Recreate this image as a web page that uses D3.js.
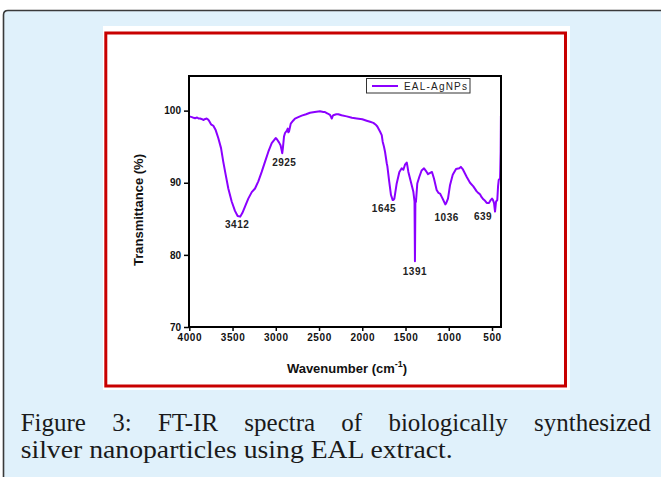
<!DOCTYPE html>
<html>
<head>
<meta charset="utf-8">
<script src="https://cdn.jsdelivr.net/npm/d3@7"></script>
<style>
  body { margin: 0; background: #fff; }
  svg { display: block; }
</style>
</head>
<body>
<div id="chart"></div>
<script>
// FT-IR spectrum, values
const wavenumber = [
  4000, 3970, 3950, 3934, 3910, 3890, 3876, 3850, 3838, 3815, 3799, 3785, 3772, 3749, 3735, 3722,
  3695, 3665, 3633, 3607, 3579, 3549, 3510, 3472, 3441, 3412, 3387, 3356, 3318, 3278, 3240, 3202,
  3163, 3125, 3086, 3047, 3020, 3001, 2985, 2963, 2945, 2932, 2925, 2918, 2905, 2893, 2874, 2862,
  2855, 2847, 2827, 2800, 2778, 2740, 2700, 2650, 2604, 2550, 2489, 2450, 2431, 2400, 2373, 2360,
  2353, 2340, 2327, 2300, 2277, 2240, 2180, 2120, 2064, 2000, 1949, 1910, 1872, 1840, 1826, 1795,
  1775, 1764, 1749, 1737, 1717, 1710, 1691, 1668, 1648, 1640, 1629, 1602, 1571, 1544, 1525, 1506,
  1486, 1478, 1467, 1440, 1410, 1396, 1391, 1386, 1379, 1364, 1341, 1314, 1286, 1256, 1240, 1225,
  1194, 1171, 1140, 1120, 1101, 1080, 1063, 1040, 1032, 1009, 985, 954, 916, 878, 860, 839,
  792, 754, 716, 677, 660, 639, 620, 600, 580, 561, 535, 515, 500, 492, 477, 465,
  453, 439, 430, 422, 407, 404, 400, 397
];
const transmittance = [
  99.2, 99.1, 99.0, 98.95, 99.05, 98.9, 98.9, 98.8, 98.7, 98.85, 98.9, 98.8, 98.6, 98.1, 98.0, 97.9,
  97.3, 96.2, 94.8, 92.9, 91.1, 89.2, 87.4, 86.1, 85.4, 85.3, 85.8, 86.7, 87.8, 88.7, 89.2, 90.2,
  91.5, 92.9, 94.3, 95.5, 95.9, 96.2, 96.0, 95.6, 95.2, 94.5, 94.1, 94.8, 96.4, 96.9, 97.2, 97.5,
  97.0, 97.1, 98.2, 98.6, 98.9, 99.1, 99.3, 99.5, 99.7, 99.8, 99.9, 99.8, 99.8, 99.6, 99.4, 99.1,
  98.9, 99.3, 99.4, 99.5, 99.5, 99.35, 99.2, 99.0, 98.9, 98.8, 98.6, 98.45, 98.3, 98.0, 97.8, 97.1,
  96.6, 95.7, 95.0, 94.3, 92.7, 92.3, 90.4, 88.3, 87.6, 87.6, 87.8, 89.9, 91.5, 92.0, 91.8, 92.5,
  92.8, 92.3, 91.5, 90.2, 88.8, 87.4, 79.1, 87.2, 87.4, 89.9, 90.8, 91.7, 92.0, 91.5, 91.2, 91.3,
  91.5, 90.6, 89.0, 88.6, 88.5, 88.0, 87.6, 87.0, 87.1, 87.8, 89.7, 91.1, 91.9, 92.0, 92.2, 91.9,
  90.8, 90.0, 89.5, 88.8, 88.6, 88.4, 88.0, 87.7, 87.5, 87.2, 87.2, 87.6, 87.8, 87.7, 87.2, 86.0,
  87.4, 87.6, 89.5, 90.4, 90.6, 92.0, 94.3, 99.3
];
const xTicks = [4000, 3500, 3000, 2500, 2000, 1500, 1000, 500];
const yTicks = [70, 80, 90, 100];
const peakWavenumber = [3412, 2925, 1645, 1391, 1036, 639];
const peakTransmittance = [85.3, 94.1, 87.6, 79.1, 87.0, 88.4];
const seriesName = "EAL-AgNPs";
const xTitle = "Wavenumber (cm";
const xTitleSup = "-1";
const yTitle = "Transmittance (%)";
const captionLines = [
  "Figure 3: FT-IR spectra of biologically synthesized",
  "silver nanoparticles using EAL extract."
];

// label offsets from the peak point (px)
const peakOffsets = [[-3, 11], [2, 13], [-9, 12], [0, 14], [1, 17], [3, 26]];

const W = 661, H = 477;
const svg = d3.select("#chart").append("svg")
  .attr("width", W).attr("height", H)
  .attr("xmlns", "http://www.w3.org/2000/svg");

// page panel
svg.append("rect").attr("x", 3.5).attr("y", 10.5).attr("width", W).attr("height", H)
  .attr("fill", "#e0f1fb");
svg.append("path")
  .attr("d", `M3.5,${H + 2} V15 Q3.5,10.5 8,10.5 H${W + 2}`)
  .attr("fill", "none").attr("stroke", "#3a3a3a").attr("stroke-width", 1.6);

// figure image area
svg.append("rect").attr("x", 103).attr("y", 26).attr("width", 467).attr("height", 364)
  .attr("fill", "#fff");
svg.append("rect").attr("x", 105.8).attr("y", 33).attr("width", 459.7).attr("height", 353)
  .attr("fill", "none").attr("stroke", "#c80000").attr("stroke-width", 3);

const font = "Arial, 'Liberation Sans', sans-serif";

const x = d3.scaleLinear().domain([4000, 396]).range([189.3, 501]);
const y = d3.scaleLinear().domain([70, 104.8]).range([327, 76]);

// axes
const xAxis = svg.append("g").attr("transform", "translate(0,327)")
  .call(d3.axisBottom(x).tickValues(xTicks).tickSize(4).tickPadding(3).tickFormat(d3.format("d")));
const yAxis = svg.append("g").attr("transform", "translate(189,0)")
  .call(d3.axisLeft(y).tickValues(yTicks).tickSize(5).tickPadding(3).tickFormat(d3.format("d")));
[xAxis, yAxis].forEach(g => {
  g.select(".domain").remove();
  g.selectAll(".tick line").attr("stroke", "#000").attr("stroke-width", 1.5);
  g.selectAll(".tick text").attr("fill", "#111").attr("font-family", font)
    .attr("font-weight", "bold").attr("font-size", 10);
});
xAxis.selectAll(".tick text").attr("letter-spacing", 0.6);

// spectrum
svg.append("defs").append("clipPath").attr("id", "plot-clip")
  .append("rect").attr("x", 189).attr("y", 76).attr("width", 312).attr("height", 251);

const line = d3.line()
  .x((d, i) => x(wavenumber[i]))
  .y((d, i) => y(transmittance[i]));

svg.append("path")
  .datum(transmittance)
  .attr("clip-path", "url(#plot-clip)")
  .attr("fill", "none")
  .attr("stroke", "#8b00ff")
  .attr("stroke-width", 2)
  .attr("stroke-linejoin", "round")
  .attr("d", line);

// frame
svg.append("rect").attr("x", 189).attr("y", 76).attr("width", 312).attr("height", 251)
  .attr("fill", "none").attr("stroke", "#000").attr("stroke-width", 2);

// peak labels
svg.selectAll(".peak")
  .data(peakWavenumber)
  .join("text")
  .attr("class", "peak")
  .attr("x", (d, i) => x(d) + peakOffsets[i][0])
  .attr("y", (d, i) => y(peakTransmittance[i]) + peakOffsets[i][1])
  .attr("text-anchor", "middle")
  .attr("font-family", font).attr("font-weight", "bold").attr("font-size", 10)
  .attr("letter-spacing", 0.5)
  .attr("fill", "#222")
  .text(d => d);

// legend
const leg = svg.append("g");
leg.append("rect").attr("x", 366.5).attr("y", 78.5).attr("width", 103.5).attr("height", 14.5)
  .attr("fill", "#fff").attr("stroke", "#333").attr("stroke-width", 1);
leg.append("line").attr("x1", 372).attr("x2", 398).attr("y1", 86).attr("y2", 86)
  .attr("stroke", "#8b00ff").attr("stroke-width", 2);
leg.append("text").attr("x", 404).attr("y", 89.5)
  .attr("font-family", font).attr("font-size", 10).attr("letter-spacing", 1.2)
  .attr("fill", "#222").text(seriesName);

// axis titles
const xt = svg.append("text").attr("x", 347).attr("y", 372.5).attr("text-anchor", "middle")
  .attr("font-family", font).attr("font-weight", "bold").attr("font-size", 13)
  .attr("fill", "#111");
xt.append("tspan").text(xTitle);
xt.append("tspan").attr("dy", -6).attr("font-size", 9).text(xTitleSup);
xt.append("tspan").attr("dy", 6).text(")");

svg.append("text")
  .attr("transform", "translate(142.5,210) rotate(-90)")
  .attr("text-anchor", "middle")
  .attr("font-family", font).attr("font-weight", "bold").attr("font-size", 13)
  .attr("fill", "#111")
  .text(yTitle);

// caption, first line justified
const capFont = "'Liberation Serif', 'Times New Roman', serif";
const capLeft = 20.7, capRight = 650.7;
const words = captionLines[0].split(" ");
const wordNodes = words.map(w => svg.append("text")
  .attr("y", 431).attr("font-family", capFont).attr("font-size", 25)
  .attr("fill", "#1a1a1a").text(w));
const widths = wordNodes.map(n => n.node().getComputedTextLength());
const gap = (capRight - capLeft - d3.sum(widths)) / (words.length - 1);
let cx = capLeft;
wordNodes.forEach((n, i) => { n.attr("x", cx); cx += widths[i] + gap; });

svg.append("text").attr("x", capLeft).attr("y", 458.3)
  .attr("font-family", capFont).attr("font-size", 25).attr("fill", "#1a1a1a")
  .attr("textLength", 432).attr("lengthAdjust", "spacingAndGlyphs")
  .text(captionLines[1]);
</script>
</body>
</html>
